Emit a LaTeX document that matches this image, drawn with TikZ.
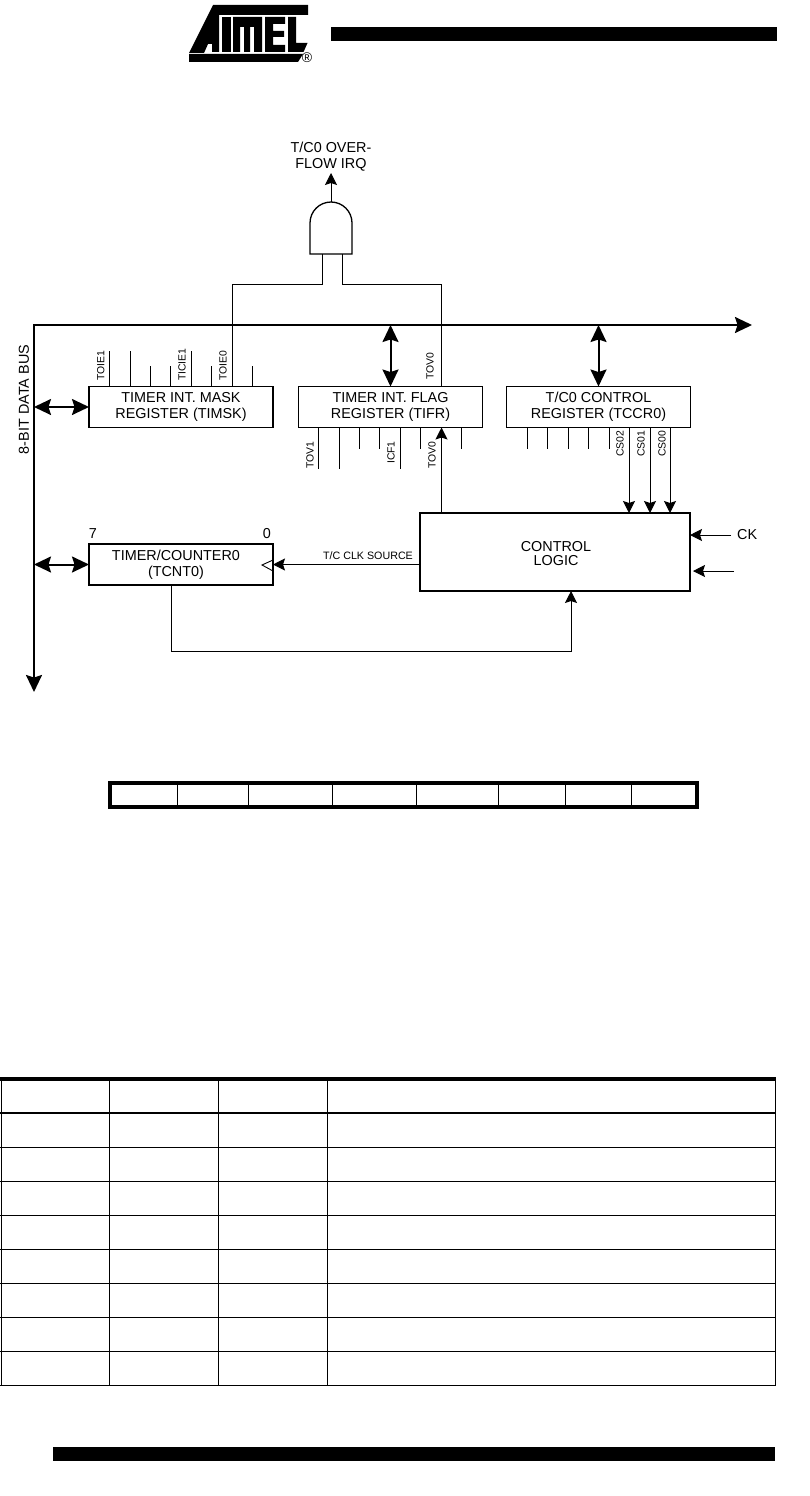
\documentclass[tikz,border=0pt]{standalone}
\usepackage{fontspec}
\setmainfont{Liberation Sans}
\usetikzlibrary{calc,arrows.meta}

\begin{document}
\begin{tikzpicture}[x=1pt,y=-1pt,>=stealth,
        regbox/.style={draw,line width=1.5pt,inner sep=0pt,outer sep=0pt,minimum width=184pt,minimum height=41pt,align=center,font=\fontsize{14.4}{16}\selectfont},
        biglabel/.style={inner sep=0pt,font=\fontsize{14.4}{16}\selectfont},
        bitlabel/.style={rotate=90,anchor=west,inner sep=0pt,font=\fontsize{10.4}{12}\selectfont},
        tick/.style={line width=0.9pt},
        wire/.style={line width=1pt},
        sigarrow/.style={line width=1pt,-{Stealth[length=12pt,width=12pt,inset=2pt]}},
        biarrow/.style={line width=2pt,{Stealth[length=17pt,width=16pt,inset=2.5pt]}-{Stealth[length=17pt,width=16pt,inset=2.5pt]}},
        tabline/.style={line width=1pt}
    ]
    \useasboundingbox (0,0) rectangle (809,1496);

    % logo and page bars
    \fill (213,5) -- (308,5) -- (308,15) -- (219,15) -- (219,52) -- (212,52) -- (212,44) -- (208,44) -- (204,53) -- (189,53) -- cycle;
    \fill (222,17) rectangle (231,52);
    \fill (233,17) -- (262,17) -- (262,52) -- (254,52) -- (254,27) -- (250,27) -- (250,52) -- (244,52) -- (244,27) -- (240,27) -- (240,52) -- (233,52) -- cycle;
    \fill (265,17) -- (285,17) -- (285,24) -- (273,24) -- (273,31) -- (284,31) -- (284,37) -- (273,37) -- (273,45) -- (285,45) -- (285,52) -- (265,52) -- cycle;
    \fill (288,17) -- (296,17) -- (296,43) -- (307.5,43) -- (303.5,52) -- (288,52) -- cycle;
    \fill (189,54) -- (303,54) -- (298,62) -- (189,62) -- cycle;
    \node[inner sep=0pt,font=\fontsize{14}{14}\selectfont] (reg) at (307,58) {®};
    \fill (331,27) rectangle (777,41);
    \fill (53,1447) rectangle (775,1461);

    % registers
    \node[regbox] (timsk) at (181,407) {TIMER INT. MASK\\REGISTER (TIMSK)};
    \node[regbox] (tifr) at (390.5,407) {TIMER INT. FLAG\\REGISTER (TIFR)};
    \node[regbox] (tccr) at (598.5,407) {T/C0 CONTROL\\REGISTER (TCCR0)};
    \node[regbox,align=center] (tcnt) at (181,564.5) {\hspace*{-10pt}TIMER/COUNTER0\\\hspace*{-10pt}(TCNT0)};
    \node[regbox,minimum width=270pt,minimum height=78pt] (logic) at (555,552) {};
    \node[biglabel,align=center,font=\fontsize{14.4}{14}\selectfont] (logictext) at (556,554) {CONTROL\\LOGIC};

    \node[biglabel] (seven) at (93,534) {7};
    \node[biglabel] (zero) at (267,534) {0};
    \node[biglabel,rotate=90] (buslabel) at (24,399.5) {8-BIT DATA BUS};
    \node[biglabel,anchor=west] (ck) at (737,535) {CK};
    \node[biglabel,align=center] (irq) at (331,157) {T/C0 OVER-\\FLOW IRQ};

    % bus
    \coordinate (buscorner) at (34,325);
    \coordinate (busright) at (752,325);
    \coordinate (busdown) at (34,692);
    \draw[biarrow] (busright) -- (buscorner) -- (busdown);
    \draw[biarrow] (tifr.north) -- (tifr.north |- buscorner);
    \draw[biarrow] (tccr.north) -- (tccr.north |- buscorner);
    \draw[biarrow] (timsk.west) -- (timsk.west -| buscorner);
    \draw[biarrow] (tcnt.west) -- (tcnt.west -| buscorner);

    % and gate
    \coordinate (andout) at (331,202);
    \coordinate (irqtip) at (331,173);
    \coordinate (ina) at (322,254);
    \coordinate (inb) at (342,254);
    \draw[line width=1.3pt] (310,254) -- (310,223) arc[start angle=180,end angle=0,radius=21pt] -- (352,254) -- cycle;
    \draw[sigarrow] (andout) -- (irqtip);
    \coordinate (toie) at ($(timsk.north west)+(143,0)$);
    \coordinate (tovtop) at ($(tifr.north west)+(143,0)$);
    \draw[wire] (ina) -- ++(0,30) -| (toie);
    \draw[wire] (inb) -- ++(0,30) -| (tovtop);

    % register bits
    \foreach \dx/\len in {20/36,41/36,61/21,81/21,102/36,122/21,163/21}
        \draw[tick] ($(timsk.north west)+(\dx,0)$) -- ++(0,-\len);
    \foreach \dx/\len in {20/41,41/41,61/21,81/21,102/41,122/21,163/21}
        \draw[tick] ($(tifr.south west)+(\dx,0)$) -- ++(0,\len);
    \foreach \dx in {20.5,41,61.5,82,102.5}
        \draw[tick] ($(tccr.south west)+(\dx,0)$) -- ++(0,21);

    \foreach \name/\x/\y in {TOIE1/100.7/381,TICIE1/182/381,TOIE0/223/381,TOV0/430/380,TOV1/310/469,ICF1/391/464,TOV0/432/469,CS02/620/457,CS01/641/457,CS00/662/457}
        \node[bitlabel] at (\x,\y) {\name};

    % control signals
    \coordinate (tovlow) at ($(tifr.south west)+(143,0)$);
    \draw[sigarrow] (logic.north -| tovlow) -- (tovlow);
    \foreach \x in {629,650,670}
        \draw[sigarrow] (tccr.south -| \x,0) -- (logic.north -| \x,0);
    \draw[sigarrow] (ck.west) ++(-6,0) -- (logic.east |- ck);
    \coordinate (rstin) at (734,571);
    \draw[sigarrow] (rstin) -- (693,571);

    % clock and feedback
    \coordinate (clkin) at (tcnt.east);
    \draw[line width=0.9pt] (273,560) -- (262,565) -- (273,571);
    \draw[sigarrow] (logic.west |- clkin) -- (clkin);
    \node[inner sep=0pt,font=\fontsize{10.7}{12}\selectfont] (clklabel) at (368,556) {T/C CLK SOURCE};
    \coordinate (fbout) at ($(tcnt.south west)+(82,0)$);
    \coordinate (fbin) at ($(logic.south west)+(151,0)$);
    \draw[sigarrow] (fbout) -- ++(0,66) -| (fbin);

    % bit table
    \draw[line width=4pt] (110,783) rectangle (697,807);
    \foreach \x in {177,248,332,416,498,565,631}
        \draw[tabline] (\x,783) -- (\x,807);

    % description table
    \foreach \x in {1.3,109,218,327,775}
        \draw[tabline] (\x,1079) -- (\x,1385);
    \draw[line width=3.5pt] (0,1079) -- (776,1079);
    \draw[line width=2pt] (0,1113) -- (776,1113);
    \foreach \y in {1147,1181,1215,1249,1283,1317,1351,1385}
        \draw[tabline] (0,\y) -- (776,\y);
\end{tikzpicture}
\end{document}
